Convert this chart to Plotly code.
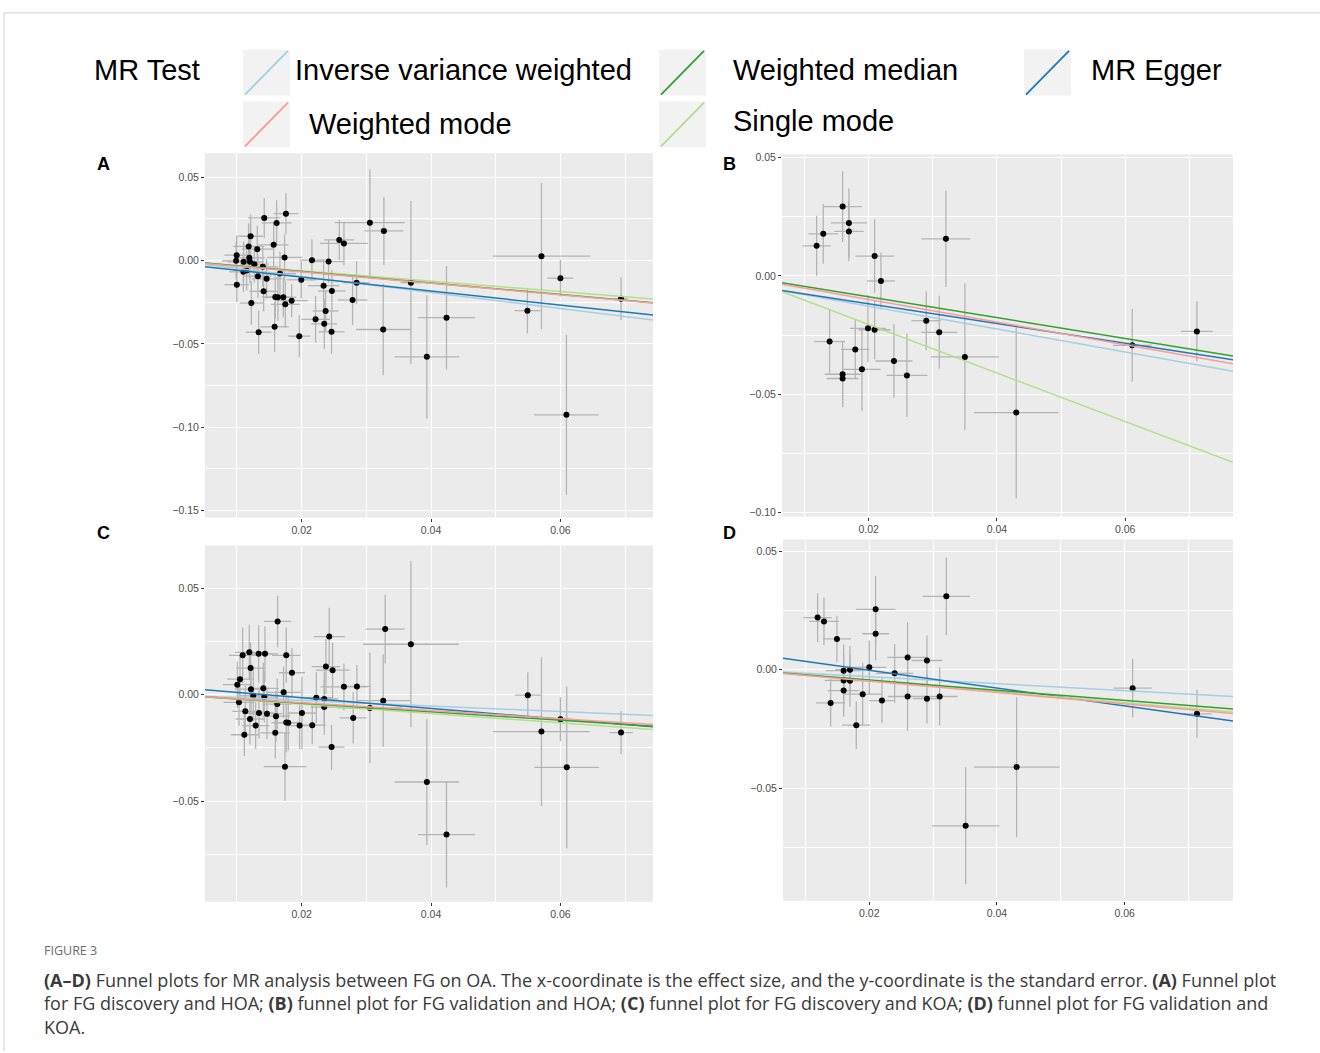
import plotly.graph_objects as go

# ---------------- data ----------------
# Panel A: FG discovery vs HOA
a_x = [0.01423, 0.01758, 0.01614, 0.03055, 0.02582, 0.02654, 0.01212, 0.01181, 0.01315, 0.01568,
       0.01737, 0.0216, 0.02417, 0.00997, 0.00988, 0.01104, 0.01192, 0.01202, 0.01269, 0.0115,
       0.0110, 0.0140, 0.01325, 0.01459, 0.01665, 0.01995, 0.00999, 0.01413, 0.01593, 0.01634,
       0.01717, 0.01846, 0.01748, 0.01223, 0.0234, 0.02468, 0.02788, 0.0285, 0.02371, 0.02216,
       0.0235, 0.02463, 0.01964, 0.01583, 0.01336, 0.03272, 0.03689, 0.03261, 0.03936, 0.0424,
       0.0549, 0.05707, 0.06, 0.06093, 0.06937]
a_y = [0.0255, 0.0281, 0.0225, 0.0227, 0.01235, 0.0102, 0.01454, 0.0084, 0.0068, 0.0094,
       0.0018, 0.0002, -0.0006, 0.0032, -0.0002, -0.0008, 0.0016, -0.0008, -0.0022, -0.006,
       -0.0068, -0.0038, -0.0094, -0.011, -0.0078, -0.0116, -0.01454, -0.0185, -0.0219, -0.0221,
       -0.0221, -0.0241, -0.0263, -0.0255, -0.0151, -0.0183, -0.0237, -0.0133, -0.0303, -0.0353,
       -0.038, -0.0428, -0.0454, -0.0398, -0.043, 0.0177, -0.0133, -0.0414, -0.0578, -0.0343,
       -0.0301, 0.0026, -0.0106, -0.0926, -0.0229]
a_xe = [0.0025, 0.0019, 0.0023, 0.0054, 0.0023, 0.0037, 0.0019, 0.0024, 0.0024, 0.0023,
        0.0027, 0.0019, 0.0023, 0.0019, 0.0022, 0.0025, 0.0024, 0.0021, 0.0022, 0.002,
        0.0022, 0.0024, 0.0021, 0.0023, 0.0025, 0.0023, 0.0019, 0.0022, 0.0021, 0.0022,
        0.002, 0.0025, 0.0022, 0.0018, 0.0024, 0.0021, 0.0023, 0.002, 0.002, 0.0022,
        0.002, 0.002, 0.0017, 0.0022, 0.002, 0.003, 0.0016, 0.0042, 0.005, 0.0044,
        0.002, 0.0075, 0.002, 0.005, 0.001]
a_ye = [0.012, 0.0122, 0.0137, 0.032, 0.012, 0.013, 0.013, 0.014, 0.014, 0.0135,
        0.014, 0.0125, 0.013, 0.012, 0.011, 0.012, 0.012, 0.013, 0.011, 0.012,
        0.012, 0.012, 0.013, 0.012, 0.013, 0.011, 0.0105, 0.012, 0.013, 0.014,
        0.012, 0.01, 0.014, 0.013, 0.016, 0.0125, 0.015, 0.013, 0.012, 0.014,
        0.015, 0.013, 0.0125, 0.015, 0.013, 0.0204, 0.049, 0.0275, 0.037, 0.031,
        0.0137, 0.0438, 0.011, 0.048, 0.0128]

# Panel B: FG validation vs HOA
b_x = [0.0119, 0.01293, 0.01595, 0.01693, 0.01693, 0.02094, 0.02192, 0.03205, 0.01392, 0.01595,
       0.01595, 0.01792, 0.01896, 0.0199, 0.02094, 0.02395, 0.02597, 0.02899, 0.03101, 0.03501,
       0.04301, 0.06109, 0.07117]
b_y = [0.01275, 0.0178, 0.0293, 0.0224, 0.0188, 0.0084, -0.0021, 0.0157, -0.0277, -0.0415,
       -0.0433, -0.031, -0.0394, -0.0221, -0.0227, -0.0359, -0.042, -0.0189, -0.0238, -0.0342,
       -0.0577, -0.0293, -0.0234]
b_xe = [0.0022, 0.0023, 0.003, 0.0028, 0.0023, 0.003, 0.0022, 0.0038, 0.0024, 0.0028,
        0.0025, 0.0022, 0.0029, 0.0028, 0.0025, 0.0029, 0.0032, 0.0023, 0.0028, 0.0053,
        0.0066, 0.003, 0.0025]
b_ye = [0.0127, 0.0126, 0.0149, 0.0146, 0.0125, 0.0155, 0.012, 0.0203, 0.0135, 0.0139,
        0.012, 0.0126, 0.0175, 0.0142, 0.0125, 0.0155, 0.0176, 0.0125, 0.0154, 0.031,
        0.0362, 0.0154, 0.0126]

# Panel C: FG discovery vs KOA
c_x = [0.01629, 0.01089, 0.01192, 0.01212, 0.01336, 0.01434, 0.01763, 0.01851, 0.01048, 0.01006,
       0.01217, 0.01408, 0.01722, 0.01254, 0.01423, 0.01032, 0.0113, 0.01202, 0.0129, 0.01341,
       0.01465, 0.01115, 0.01604, 0.01624, 0.01593, 0.01763, 0.01794, 0.01743, 0.01969, 0.02005,
       0.02165, 0.02227, 0.0235, 0.0235, 0.02376, 0.02427, 0.02479, 0.02463, 0.02654, 0.02798,
       0.02855, 0.03055, 0.03292, 0.03261, 0.03689, 0.03936, 0.0424, 0.05496, 0.05707, 0.06,
       0.06098, 0.06937]
c_y = [0.0344, 0.0185, 0.0199, 0.0125, 0.0192, 0.0192, 0.0185, 0.0103, 0.0073, 0.0047,
       0.0026, 0.003, 0.0011, -0.0005, -0.0011, -0.0036, -0.0078, -0.0114, -0.0145, -0.0086,
       -0.0089, -0.0188, -0.0101, -0.0044, -0.0179, -0.0131, -0.0132, -0.0338, -0.0145, -0.0086,
       -0.0143, -0.0014, -0.002, -0.0058, 0.0132, 0.0273, 0.0115, -0.0246, 0.0037, -0.0109,
       0.0039, -0.0062, 0.0308, -0.0028, 0.0237, -0.041, -0.0657, -0.0002, -0.0173, -0.0115,
       -0.0341, -0.0178]
c_xe = [0.0021, 0.0021, 0.0022, 0.0022, 0.0023, 0.002, 0.0022, 0.002, 0.002, 0.0022,
        0.0025, 0.0024, 0.0026, 0.002, 0.0022, 0.0024, 0.002, 0.0022, 0.0021, 0.0023,
        0.0024, 0.0021, 0.0022, 0.0022, 0.0023, 0.0023, 0.0022, 0.0033, 0.0018, 0.0022,
        0.0021, 0.0024, 0.0022, 0.0021, 0.0022, 0.0024, 0.0026, 0.002, 0.0036, 0.0021,
        0.0021, 0.005, 0.003, 0.0042, 0.0074, 0.005, 0.0044, 0.002, 0.0075, 0.0019,
        0.005, 0.0018]
c_ye = [0.0121, 0.013, 0.013, 0.012, 0.0135, 0.013, 0.013, 0.0115, 0.011, 0.011,
        0.012, 0.012, 0.012, 0.012, 0.012, 0.011, 0.012, 0.012, 0.011, 0.012,
        0.012, 0.01, 0.012, 0.012, 0.012, 0.014, 0.013, 0.016, 0.011, 0.017,
        0.009, 0.012, 0.013, 0.013, 0.013, 0.0135, 0.013, 0.0105, 0.011, 0.012,
        0.01, 0.026, 0.0161, 0.0217, 0.039, 0.0296, 0.0248, 0.0107, 0.035, 0.0103,
        0.038, 0.0101]

# Panel D: FG validation vs KOA
d_x = [0.0119, 0.0129, 0.01493, 0.01598, 0.01697, 0.01598, 0.01697, 0.01598, 0.01394, 0.01796,
       0.01896, 0.02, 0.02099, 0.02099, 0.02198, 0.02397, 0.026, 0.026, 0.02903, 0.02903,
       0.03102, 0.03206, 0.03509, 0.04308, 0.06125, 0.07133]
d_y = [0.022, 0.0204, 0.013, -0.0004, 0.0, -0.0045, -0.0046, -0.0088, -0.014, -0.0234,
       -0.0103, 0.001, 0.0255, 0.0152, -0.013, -0.0015, 0.0052, -0.0113, 0.0039, -0.0122,
       -0.0113, 0.031, -0.0659, -0.0411, -0.0078, -0.0186]
d_xe = [0.0022, 0.0023, 0.0022, 0.0028, 0.0023, 0.003, 0.0028, 0.0025, 0.0023, 0.0022,
        0.0029, 0.0027, 0.0031, 0.0021, 0.002, 0.0029, 0.0032, 0.0031, 0.0024, 0.0022,
        0.0028, 0.0037, 0.0053, 0.0067, 0.003, 0.0023]
d_ye = [0.0103, 0.01, 0.0098, 0.011, 0.01, 0.011, 0.011, 0.011, 0.0101, 0.0101,
        0.0133, 0.0113, 0.0141, 0.0112, 0.0094, 0.0124, 0.0147, 0.0145, 0.0105, 0.0105,
        0.0122, 0.0163, 0.0247, 0.0295, 0.0124, 0.0101]

# MR method lines (slope, intercept) per panel
methods = ["Inverse variance weighted", "MR Egger", "Single mode", "Weighted median", "Weighted mode"]
method_colors = ["#a6cee3", "#1f78b4", "#b2df8a", "#33a02c", "#fb9a99"]
a_slope = [-0.48, -0.4177, -0.31, -0.345, -0.343]
a_icpt = [0.0, -0.00166, 0.0, 0.0003, 0.0]
b_slope = [-0.484, -0.416, -1.025, -0.44, -0.477]
b_icpt = [-0.00305, -0.00346, 0.0, 0.0, -0.0004]
c_slope = [-0.132, -0.252, -0.22, -0.2, -0.188]
c_icpt = [0.0, 0.00362, 0.0, 0.0, 0.0]
d_slope = [-0.147, -0.377, -0.232, -0.216, -0.24]
d_icpt = [0.0, 0.00734, 0.0, 0.0, 0.0]

panel_labels = ["A", "B", "C", "D"]

# ---------------- layout helpers ----------------
W, H = 1320, 1053
def px(x):
    return x / W
def py(y):
    return 1 - y / H

panels = [
    dict(x=a_x, y=a_y, xe=a_xe, ye=a_ye, s=a_slope, i=a_icpt,
         dom=(205, 653, 151, 517), xr=[0.00507, 0.07431], yr=[-0.1542, 0.0643], lab=(103, 162)),
    dict(x=b_x, y=b_y, xe=b_xe, ye=b_ye, s=b_slope, i=b_icpt,
         dom=(782, 1233, 152, 516), xr=[0.0065, 0.0768], yr=[-0.1016, 0.0514], lab=(729, 162)),
    dict(x=c_x, y=c_y, xe=c_xe, ye=c_ye, s=c_slope, i=c_icpt,
         dom=(205, 653, 545, 903), xr=[0.00507, 0.07431], yr=[-0.0972, 0.0701], lab=(103, 533)),
    dict(x=d_x, y=d_y, xe=d_xe, ye=d_ye, s=d_slope, i=d_icpt,
         dom=(783, 1233, 539, 902), xr=[0.00648, 0.07697], yr=[-0.0975, 0.0550], lab=(729, 533)),
]

fig = go.Figure()
layout = {}
annotations = []
shapes = []
tickfont = dict(size=10.5, color="#4d4d4d", family="Liberation Sans, Arial, sans-serif")

for k, p in enumerate(panels):
    n = "" if k == 0 else str(k + 1)
    xa, ya = "x" + n, "y" + n
    x0, x1, y0, y1 = p["dom"]
    common = dict(showgrid=True, gridcolor="white", gridwidth=1.3, zeroline=False, showline=False,
                  ticks="outside", ticklen=3, tickwidth=1, tickcolor="#333333", tickfont=tickfont,
                  tickformat=".2f", tick0=0)
    layout["xaxis" + n] = dict(domain=[px(x0), px(x1)], range=p["xr"], anchor=ya, dtick=0.02,
                               minor=dict(dtick=0.01, tick0=0, showgrid=True, gridcolor="white", gridwidth=0.6),
                               **common)
    layout["yaxis" + n] = dict(domain=[py(y1), py(y0)], range=p["yr"], anchor=xa, dtick=0.05,
                               minor=dict(dtick=0.025, tick0=0, showgrid=True, gridcolor="white", gridwidth=0.6),
                               **common)
    fig.add_trace(go.Scatter(
        x=p["x"], y=p["y"], mode="markers", xaxis=xa, yaxis=ya, showlegend=False,
        marker=dict(color="black", size=6),
        error_x=dict(type="data", array=p["xe"], color="#b4b4b4", thickness=1.3, width=0),
        error_y=dict(type="data", array=p["ye"], color="#b4b4b4", thickness=1.3, width=0),
    ))
    for m, col, sl, ic in zip(methods, method_colors, p["s"], p["i"]):
        xs = p["xr"]
        ys = [ic + sl * v for v in xs]
        fig.add_trace(go.Scatter(x=xs, y=ys, mode="lines", xaxis=xa, yaxis=ya, showlegend=False,
                                 line=dict(color=col, width=1.5), name=m))
    lx, ly = p["lab"]
    annotations.append(dict(text="<b>%s</b>" % panel_labels[k], x=px(lx), y=py(ly), xref="paper", yref="paper",
                            showarrow=False, xanchor="center", yanchor="middle",
                            font=dict(size=18, color="black", family="Liberation Sans, Arial")))

# ---------------- legend (manual, ggplot style) ----------------
leg_font = dict(size=29, color="black", family="Liberation Sans, Arial")
annotations.append(dict(text="MR Test", x=px(92), y=py(67), xref="paper", yref="paper", showarrow=False,
                        xanchor="left", yanchor="middle", font=leg_font))
legend_items = [
    ("Inverse variance weighted", "#a6cee3", 243, 47, 293, 67),
    ("Weighted median", "#33a02c", 659, 47, 731, 67),
    ("MR Egger", "#1f78b4", 1024, 47, 1089, 67),
    ("Weighted mode", "#fb9a99", 243, 99, 307, 122),
    ("Single mode", "#b2df8a", 659, 99, 731, 119),
]
for name, col, kx, ky, tx, ty in legend_items:
    shapes.append(dict(type="rect", xref="paper", yref="paper", x0=px(kx), x1=px(kx + 47),
                       y0=py(ky + 46), y1=py(ky), fillcolor="#f2f2f2", line=dict(width=0), layer="below"))
    shapes.append(dict(type="line", xref="paper", yref="paper", x0=px(kx + 2), x1=px(kx + 45),
                       y0=py(ky + 45), y1=py(ky + 1), line=dict(color=col, width=1.8)))
    annotations.append(dict(text=name, x=px(tx), y=py(ty), xref="paper", yref="paper", showarrow=False,
                            xanchor="left", yanchor="middle", font=leg_font))

# ---------------- frame lines ----------------
shapes.append(dict(type="line", xref="paper", yref="paper", x0=px(4), x1=1, y0=py(10), y1=py(10),
                   line=dict(color="#cfcfcf", width=1)))
shapes.append(dict(type="line", xref="paper", yref="paper", x0=px(4), x1=px(4), y0=0, y1=py(10),
                   line=dict(color="#cfcfcf", width=1)))

# ---------------- caption ----------------
annotations.append(dict(text="FIGURE 3", x=px(42), y=py(952), xref="paper", yref="paper", showarrow=False,
                        xanchor="left", yanchor="middle",
                        font=dict(size=12.5, color="#6b6b6b", family="Open Sans, sans-serif")))
cap_lines = [
    "<b>(A–D)</b> Funnel plots for MR analysis between FG on OA. The x-coordinate is the effect size, and the y-coordinate is the standard error. <b>(A)</b> Funnel plot",
    "for FG discovery and HOA; <b>(B)</b> funnel plot for FG validation and HOA; <b>(C)</b> funnel plot for FG discovery and KOA; <b>(D)</b> funnel plot for FG validation and",
    "KOA.",
]
annotations.append(dict(text="<br>".join(cap_lines), x=px(42), y=py(968), xref="paper", yref="paper",
                        showarrow=False, xanchor="left", yanchor="top", align="left",
                        font=dict(size=18, color="#3a3a3a", family="Open Sans, sans-serif")))

fig.update_layout(width=W, height=H, margin=dict(l=0, r=0, t=0, b=0),
                  paper_bgcolor="white", plot_bgcolor="#ebebeb",
                  annotations=annotations, shapes=shapes, showlegend=False, **layout)

fig.write_html("out.html", config={"displayModeBar": False},
               post_script="document.body.style.margin='0';document.body.style.padding='0';")
